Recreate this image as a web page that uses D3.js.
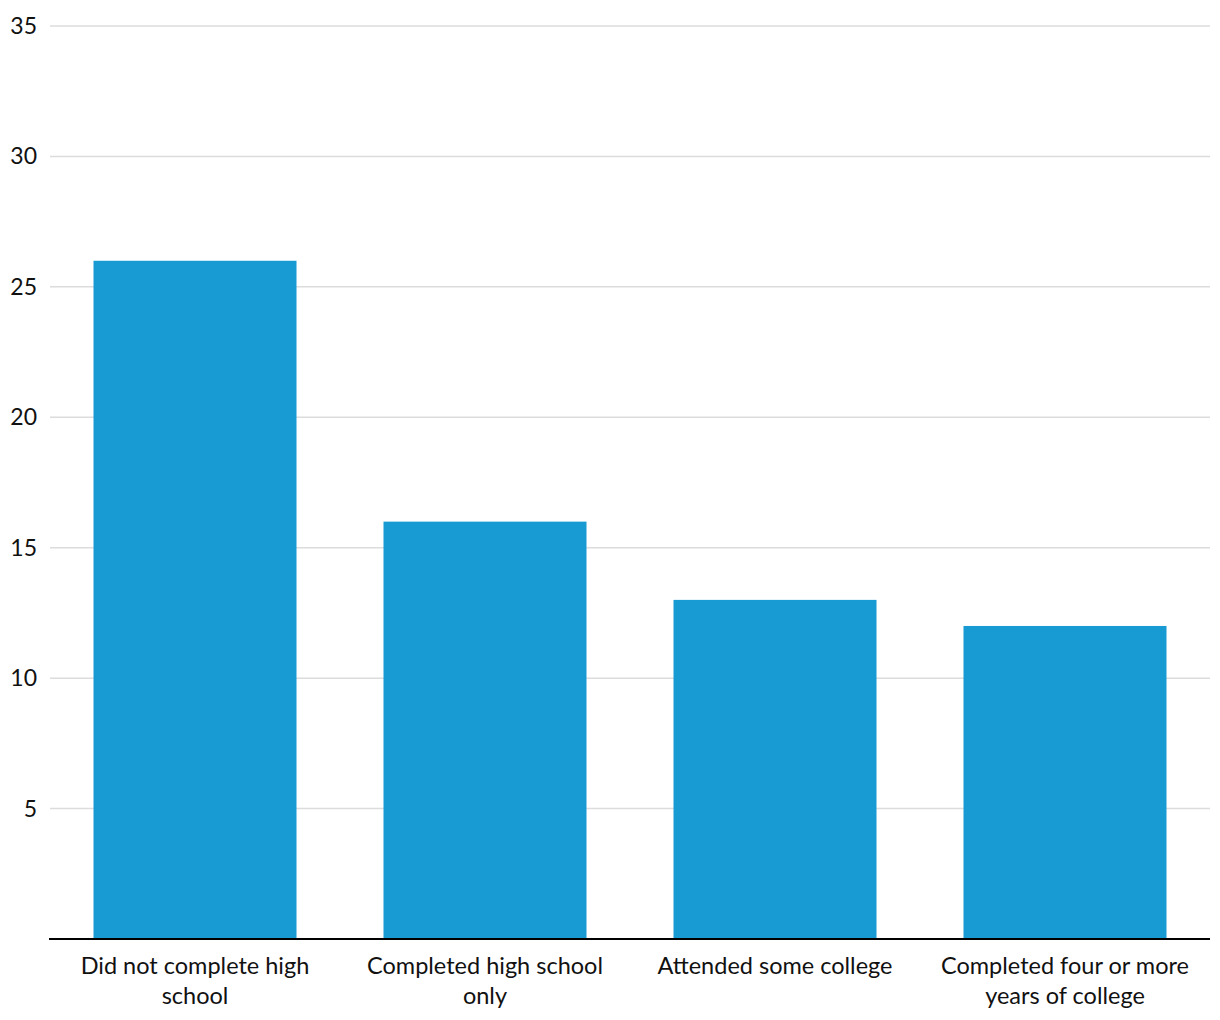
<!DOCTYPE html>
<html><head><meta charset="utf-8">
<script src="https://cdn.jsdelivr.net/npm/d3@7"></script>
<style>body{margin:0;background:#fff}svg{display:block;font-family:Lato,sans-serif}</style>
</head><body><svg id="c" width="1220" height="1020"></svg>
<script>
const categories = [["Did not complete high","school"],["Completed high school","only"],["Attended some college"],["Completed four or more","years of college"]];
const values = [26, 16, 13, 12];
const yTicks = [5, 10, 15, 20, 25, 30, 35];

(function(){
const svg = d3.select("#c");
const mLeft = 50, mRight = 1210, mTop = 26, mBottom = 939;
const x = d3.scaleBand().domain(d3.range(values.length)).range([mLeft, mRight]).paddingInner(0.3).paddingOuter(0.15);
const y = d3.scaleLinear().domain([0, 35]).range([mBottom, mTop]);

svg.append("g").selectAll("line").data(yTicks).join("line")
  .attr("x1", mLeft).attr("x2", mRight).attr("y1", d => y(d)).attr("y2", d => y(d))
  .attr("stroke", "#dcdcdc").attr("stroke-width", 1.5);
svg.append("g").selectAll("text").data(yTicks).join("text")
  .attr("x", 37).attr("y", d => y(d) + 8).attr("text-anchor", "end")
  .attr("font-size", 23).attr("fill", "#111").text(d => d);

svg.append("g").selectAll("rect").data(values).join("rect")
  .attr("x", (d, i) => x(i)).attr("width", x.bandwidth())
  .attr("y", d => y(d)).attr("height", d => y(0) - y(d)).attr("fill", "#189bd3");

svg.append("line").attr("x1", mLeft - 1).attr("x2", mRight).attr("y1", mBottom).attr("y2", mBottom)
  .attr("stroke", "#000").attr("stroke-width", 2);

const lab = svg.append("g").selectAll("text").data(categories).join("text")
  .attr("text-anchor", "middle").attr("font-size", 23.5).attr("fill", "#111");
lab.each(function(lines, i) {
  d3.select(this).selectAll("tspan").data(lines).join("tspan")
    .attr("x", x(i) + x.bandwidth() / 2).attr("y", (d, j) => 974 + j * 30).text(d => d);
});
})();
</script></body></html>
